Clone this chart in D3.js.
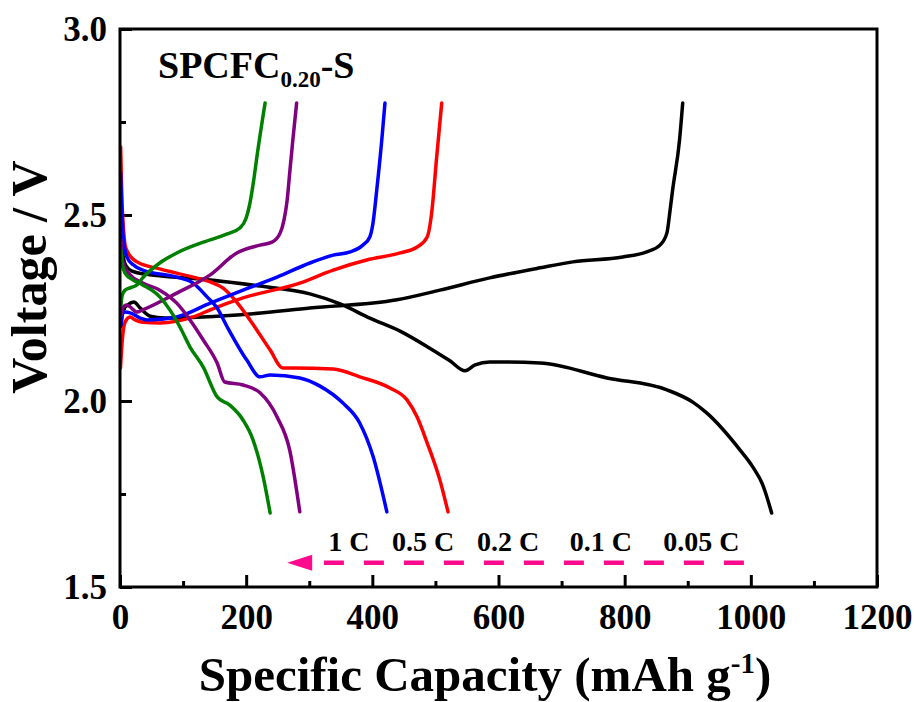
<!DOCTYPE html>
<html>
<head>
<meta charset="utf-8">
<script src="https://cdn.jsdelivr.net/npm/d3@7"></script>
<style>
  body { margin: 0; background: #fff; }
  .chart text { font-family: "Liberation Serif", "Times New Roman", serif; font-weight: bold; }
</style>
</head>
<body>
<div class="chart"></div>
<script>
// capacity (mAh g-1), voltage (V)
var rates = ["1 C", "0.5 C", "0.2 C", "0.1 C", "0.05 C"];
var colors = ["#008000", "#800080", "#0000ff", "#ff0000", "#000000"];

var dis1C = [[1.6,2.406],[3,2.371],[8,2.344],[21,2.325],[36,2.312],[63,2.280],[79,2.245],[95,2.199],[111,2.145],[132,2.091],[154,2.011],[174,1.989],[195,1.949],[211,1.895],[227,1.796],[238,1.699]];
var chg1C = [[1.6,2.258],[3,2.280],[8,2.298],[19,2.306],[27,2.312],[36,2.331],[63,2.371],[90,2.398],[132,2.427],[170,2.449],[190,2.465],[200,2.492],[206,2.532],[212,2.594],[217,2.656],[230,2.801]];

var dis05C = [[1.6,2.433],[3,2.392],[5,2.371],[16,2.339],[36,2.317],[63,2.298],[90,2.263],[111,2.218],[132,2.164],[154,2.102],[166,2.051],[195,2.043],[222,2.022],[249,1.957],[269,1.868],[285,1.702]];
var chg05C = [[1.6,2.231],[5,2.253],[11,2.258],[16,2.253],[27,2.239],[36,2.245],[90,2.290],[143,2.339],[185,2.398],[222,2.419],[241,2.427],[254,2.452],[260,2.487],[265,2.540],[269,2.613],[274,2.702],[280,2.801]];

var dis02C = [[1,2.613],[3,2.513],[5,2.441],[11,2.387],[21,2.366],[36,2.352],[90,2.333],[116,2.317],[138,2.280],[154,2.250],[170,2.199],[201,2.110],[222,2.065],[238,2.070],[285,2.062],[317,2.040],[353,1.995],[380,1.941],[401,1.852],[423,1.702]];
var chg02C = [[1.6,2.204],[3,2.231],[8,2.239],[16,2.237],[32,2.223],[43,2.218],[90,2.226],[143,2.263],[195,2.298],[249,2.333],[301,2.371],[338,2.392],[365,2.401],[385,2.419],[396,2.441],[401,2.478],[407,2.567],[415,2.702],[420,2.801]];

var dis01C = [[1,2.683],[3,2.540],[5,2.478],[8,2.419],[13,2.398],[27,2.374],[63,2.355],[116,2.333],[143,2.320],[163,2.304],[185,2.266],[206,2.218],[238,2.137],[258,2.089],[274,2.089],[338,2.086],[380,2.065],[428,2.035],[455,2.003],[471,1.957],[487,1.887],[507,1.788],[520,1.702]];
var chg01C = [[0.8,2.089],[3,2.151],[8,2.212],[16,2.226],[24,2.218],[36,2.212],[63,2.210],[116,2.226],[143,2.245],[195,2.277],[285,2.317],[338,2.352],[391,2.379],[444,2.398],[471,2.414],[487,2.441],[494,2.505],[502,2.656],[510,2.801]];

var dis005C = [[1.6,2.446],[4.8,2.392],[9.5,2.363],[19,2.349],[40,2.341],[127,2.328],[222,2.309],[301,2.288],[349,2.261],[396,2.223],[444,2.188],[491,2.142],[523,2.108],[547,2.081],[563,2.097],[586,2.105],[666,2.102],[772,2.062],[867,2.030],[908,1.997],[930,1.968],[983,1.868],[1003,1.823],[1019,1.774],[1033,1.699]];
var chg005C = [[1.6,2.200],[5,2.245],[12,2.258],[22,2.266],[32,2.250],[48,2.228],[71,2.223],[206,2.234],[301,2.250],[439,2.272],[507,2.298],[586,2.331],[666,2.358],[718,2.374],[797,2.387],[835,2.401],[856,2.419],[867,2.452],[872,2.513],[876,2.567],[887,2.702],[892,2.801]];

var discharge = [dis1C, dis05C, dis02C, dis01C, dis005C];
var charge = [chg1C, chg05C, chg02C, chg01C, chg005C];

var xTicks = [0, 200, 400, 600, 800, 1000, 1200];
var xMinor = [100, 300, 500, 700, 900, 1100];
var yTicks = [1.5, 2.0, 2.5, 3.0];
var yMinor = [1.75, 2.25, 2.75];

// rate labels (left edge, capacity units) and arrow
var rateLabelX = [330, 431, 566, 713, 861];
var rateLabelV = 1.597;
var arrowFrom = [989, 1.565];
var arrowTo = [265, 1.565];

var w = 914;
var h = 702;

var svg = d3.select(".chart")
            .append("svg")
            .attr("width", w)
            .attr("height", h);

var x = d3.scaleLinear()
          .domain([0, 1200])
          .range([120, 877]);

var y = d3.scaleLinear()
          .domain([1.5, 3.0])
          .range([587, 29]);

// axes (ticks point inside)
var xAxis = d3.axisBottom(x).tickValues(xTicks).tickSizeInner(-12).tickSizeOuter(0).tickPadding(17)
              .tickFormat(d3.format("d"));
var xAxisMinor = d3.axisBottom(x).tickValues(xMinor).tickSizeInner(-6).tickSizeOuter(0).tickFormat("");
var yAxis = d3.axisLeft(y).tickValues(yTicks).tickSizeInner(-12).tickSizeOuter(0).tickPadding(13)
              .tickFormat(d3.format(".1f"));
var yAxisMinor = d3.axisLeft(y).tickValues(yMinor).tickSizeInner(-6).tickSizeOuter(0).tickFormat("");

function styleAxis(g){
  g.select(".domain").remove();
  g.selectAll("line").attr("stroke", "#000").attr("stroke-width", 3);
  g.selectAll("text").attr("fill", "#000").style("font-size", "35px")
    .style("font-family", '"Liberation Serif", "Times New Roman", serif').style("font-weight", "bold");
}

svg.append("g").attr("transform", "translate(0,587)").call(xAxis).call(styleAxis);
svg.append("g").attr("transform", "translate(0,587)").call(xAxisMinor).call(styleAxis);
svg.append("g").attr("transform", "translate(120,0)").call(yAxis).call(styleAxis);
svg.append("g").attr("transform", "translate(120,0)").call(yAxisMinor).call(styleAxis);

// curves
var line = d3.line()
             .x(function(d){ return x(d[0]); })
             .y(function(d){ return y(d[1]); })
             .curve(d3.curveMonotoneX);

var curves = svg.append("g")
                .attr("fill", "none")
                .attr("stroke-width", 3.5)
                .attr("stroke-linecap", "round")
                .attr("stroke-linejoin", "round");

// draw slowest rate first so faster rates sit on top
for (var i = rates.length - 1; i >= 0; i--) {
  curves.append("path").attr("d", line(charge[i])).attr("stroke", colors[i]);
  curves.append("path").attr("d", line(discharge[i])).attr("stroke", colors[i]);
}

// frame
svg.append("rect")
   .attr("x", x(0))
   .attr("y", y(3.0))
   .attr("width", x(1200) - x(0))
   .attr("height", y(1.5) - y(3.0))
   .attr("fill", "none")
   .attr("stroke", "#000")
   .attr("stroke-width", 3);

// rate labels
svg.append("g")
   .selectAll("text")
   .data(rates)
   .join("text")
     .attr("x", function(d, i){ return x(rateLabelX[i]); })
     .attr("y", y(rateLabelV))
     .style("font-size", "28px")
     .attr("fill", "#000")
     .text(function(d){ return d; });

// dashed arrow
var pink = "#ff0a8c";
svg.append("line")
   .attr("x1", x(arrowFrom[0]))
   .attr("y1", y(arrowFrom[1]))
   .attr("x2", x(arrowTo[0]) + 22)
   .attr("y2", y(arrowTo[1]))
   .attr("stroke", pink)
   .attr("stroke-width", 4.5)
   .attr("stroke-dasharray", "20,20");

var tipX = x(arrowTo[0]), tipY = y(arrowTo[1]);
svg.append("path")
   .attr("d", "M" + tipX + "," + tipY + "L" + (tipX + 25) + "," + (tipY - 8) + "L" + (tipX + 25) + "," + (tipY + 8) + "Z")
   .attr("fill", pink);

// sample name
var title = svg.append("text")
               .attr("x", 158)
               .attr("y", 78)
               .style("font-size", "38px")
               .attr("fill", "#000");
title.append("tspan").text("SPCFC");
title.append("tspan").attr("dy", 9).style("font-size", "23px").text("0.20");
title.append("tspan").attr("dy", -9).text("-S");

// axis titles
var xTitle = svg.append("text")
                .attr("x", 485)
                .attr("y", 691)
                .attr("text-anchor", "middle")
                .style("font-size", "49px")
                .attr("fill", "#000");
xTitle.append("tspan").text("Specific Capacity (mAh g");
xTitle.append("tspan").attr("dy", -18).style("font-size", "29px").text("-1");
xTitle.append("tspan").attr("dy", 18).text(")");

svg.append("text")
   .attr("transform", "translate(46,277) rotate(-90)")
   .attr("text-anchor", "middle")
   .style("font-size", "50px")
   .attr("fill", "#000")
   .text("Voltage / V");
</script>
</body>
</html>
